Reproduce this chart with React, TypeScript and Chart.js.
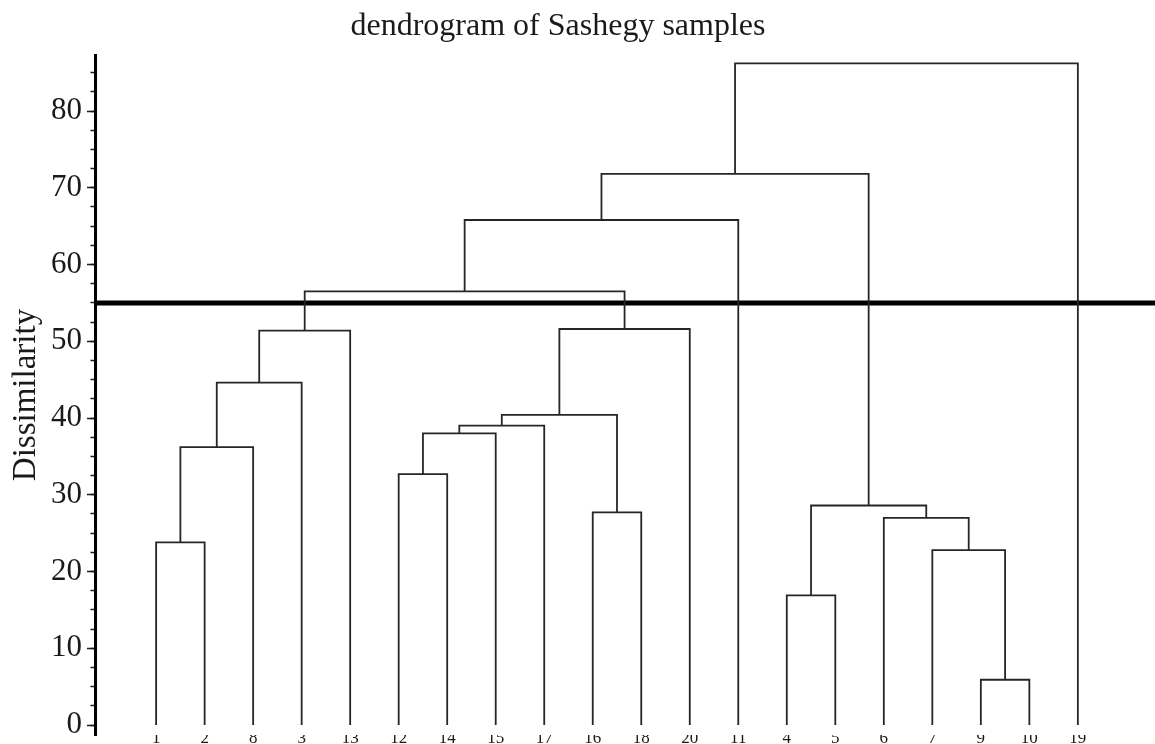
import React, { useEffect, useRef } from 'react';
import { Chart, registerables } from 'chart.js';

Chart.register(...registerables);

const chartTitle = 'dendrogram of Sashegy samples';
const yAxisTitle = 'Dissimilarity';
// leaves in display order (node ids 0..19)
const leafLabels = ['1', '2', '8', '3', '13', '12', '14', '15', '17', '16', '18', '20', '11', '4', '5', '6', '7', '9', '10', '19'];
// merges: each creates node id 20 + index
const mergeLeft = [0, 20, 21, 22, 5, 24, 25, 9, 26, 28, 23, 30, 17, 13, 16, 15, 33, 31, 37];
const mergeRight = [1, 2, 3, 4, 6, 7, 8, 10, 27, 11, 29, 12, 18, 14, 32, 34, 35, 36, 19];
const mergeHeight = [23.8, 36.2, 44.6, 51.4, 32.7, 38.0, 39.0, 27.7, 40.4, 51.6, 56.5, 65.8, 5.9, 16.9, 22.8, 27.0, 28.6, 71.8, 86.2];
const cutHeight = 55;
const yMin = -1.3;
const yMax = 87.3;
const xMin = -0.26;
const xMax = 21.59;

const SERIF = '"Liberation Serif", "Times New Roman", serif';
const INK = '#1a1a1a';

function buildDatasets() {
  const nodeX: number[] = leafLabels.map((_, i) => i + 1);
  const nodeY: number[] = leafLabels.map(() => 0);
  const sets: any[] = [];
  mergeLeft.forEach((l, k) => {
    const r = mergeRight[k];
    const h = mergeHeight[k];
    sets.push({
      label: 'link' + k,
      data: [
        { x: nodeX[l], y: nodeY[l] },
        { x: nodeX[l], y: h },
        { x: nodeX[r], y: h },
        { x: nodeX[r], y: nodeY[r] },
      ],
      showLine: true,
      borderColor: '#262626',
      borderWidth: 1.8,
      pointRadius: 0,
      fill: false,
      tension: 0,
    });
    nodeX.push((nodeX[l] + nodeX[r]) / 2);
    nodeY.push(h);
  });
  sets.push({
    label: 'cut',
    data: [
      { x: xMin, y: cutHeight },
      { x: xMax, y: cutHeight },
    ],
    showLine: true,
    borderColor: '#000',
    borderWidth: 5,
    pointRadius: 0,
    fill: false,
  });
  return sets;
}

const titlePlugin = {
  id: 'sketchTitle',
  afterDraw(chart: any) {
    const ctx = chart.ctx;
    ctx.save();
    ctx.font = '32px ' + SERIF;
    ctx.fillStyle = INK;
    ctx.textAlign = 'center';
    ctx.textBaseline = 'alphabetic';
    ctx.fillText(chartTitle, 558, 35);
    ctx.restore();
  },
};

export default function App() {
  const ref = useRef<HTMLCanvasElement | null>(null);
  useEffect(() => {
    if (!ref.current) return;
    const chart = new Chart(ref.current, {
      type: 'scatter',
      data: { datasets: buildDatasets() },
      plugins: [titlePlugin],
      options: {
        animation: false,
        responsive: true,
        maintainAspectRatio: false,
        layout: { padding: { top: 55, left: 0, right: 0, bottom: 0 } },
        plugins: {
          legend: { display: false },
          tooltip: { enabled: false },
          title: { display: false },
        },
        scales: {
          x: {
            type: 'linear',
            position: 'bottom',
            min: xMin,
            max: xMax,
            grid: { display: false },
            border: { display: false },
            afterBuildTicks: (scale: any) => {
              scale.ticks = leafLabels.map((_, i) => ({ value: i + 1 }));
            },
            afterFit: (scale: any) => {
              scale.height = 9;
              scale.paddingLeft = 0;
              scale.paddingRight = 0;
            },
            ticks: {
              autoSkip: false,
              maxRotation: 0,
              padding: -15,
              color: INK,
              font: { family: SERIF, size: 17 },
              callback: (v: any) => leafLabels[Number(v) - 1] ?? '',
            },
          },
          y: {
            type: 'linear',
            position: 'left',
            weight: 1,
            min: yMin,
            max: yMax,
            afterFit: (scale: any) => {
              scale.width = 95;
              scale.paddingTop = 0;
              scale.paddingBottom = 0;
            },
            border: { display: true, color: '#000', width: 3 },
            grid: {
              display: true,
              drawOnChartArea: false,
              drawTicks: true,
              tickLength: 8,
              tickWidth: 1.5,
              tickColor: INK,
            },
            ticks: {
              stepSize: 10,
              includeBounds: false,
              padding: 5,
              color: INK,
              font: { family: SERIF, size: 31 },
            },
            title: {
              display: true,
              text: yAxisTitle,
              color: INK,
              font: { family: SERIF, size: 33 },
              padding: { top: 7, bottom: 0 },
            },
          },
          yMinor: {
            type: 'linear',
            position: 'left',
            weight: 0,
            min: yMin,
            max: yMax,
            afterFit: (scale: any) => {
              scale.width = 0;
              scale.paddingTop = 0;
              scale.paddingBottom = 0;
            },
            border: { display: false },
            grid: {
              display: true,
              drawOnChartArea: false,
              drawTicks: true,
              tickLength: 4.5,
              tickWidth: 1.5,
              tickColor: INK,
            },
            ticks: {
              stepSize: 2.5,
              includeBounds: false,
              display: false,
            },
          },
        },
      },
    });
    return () => chart.destroy();
  }, []);
  return (
    <div style={{ position: 'absolute', left: 0, top: 0, width: 1155, height: 744 }}>
      <canvas ref={ref} />
    </div>
  );
}
